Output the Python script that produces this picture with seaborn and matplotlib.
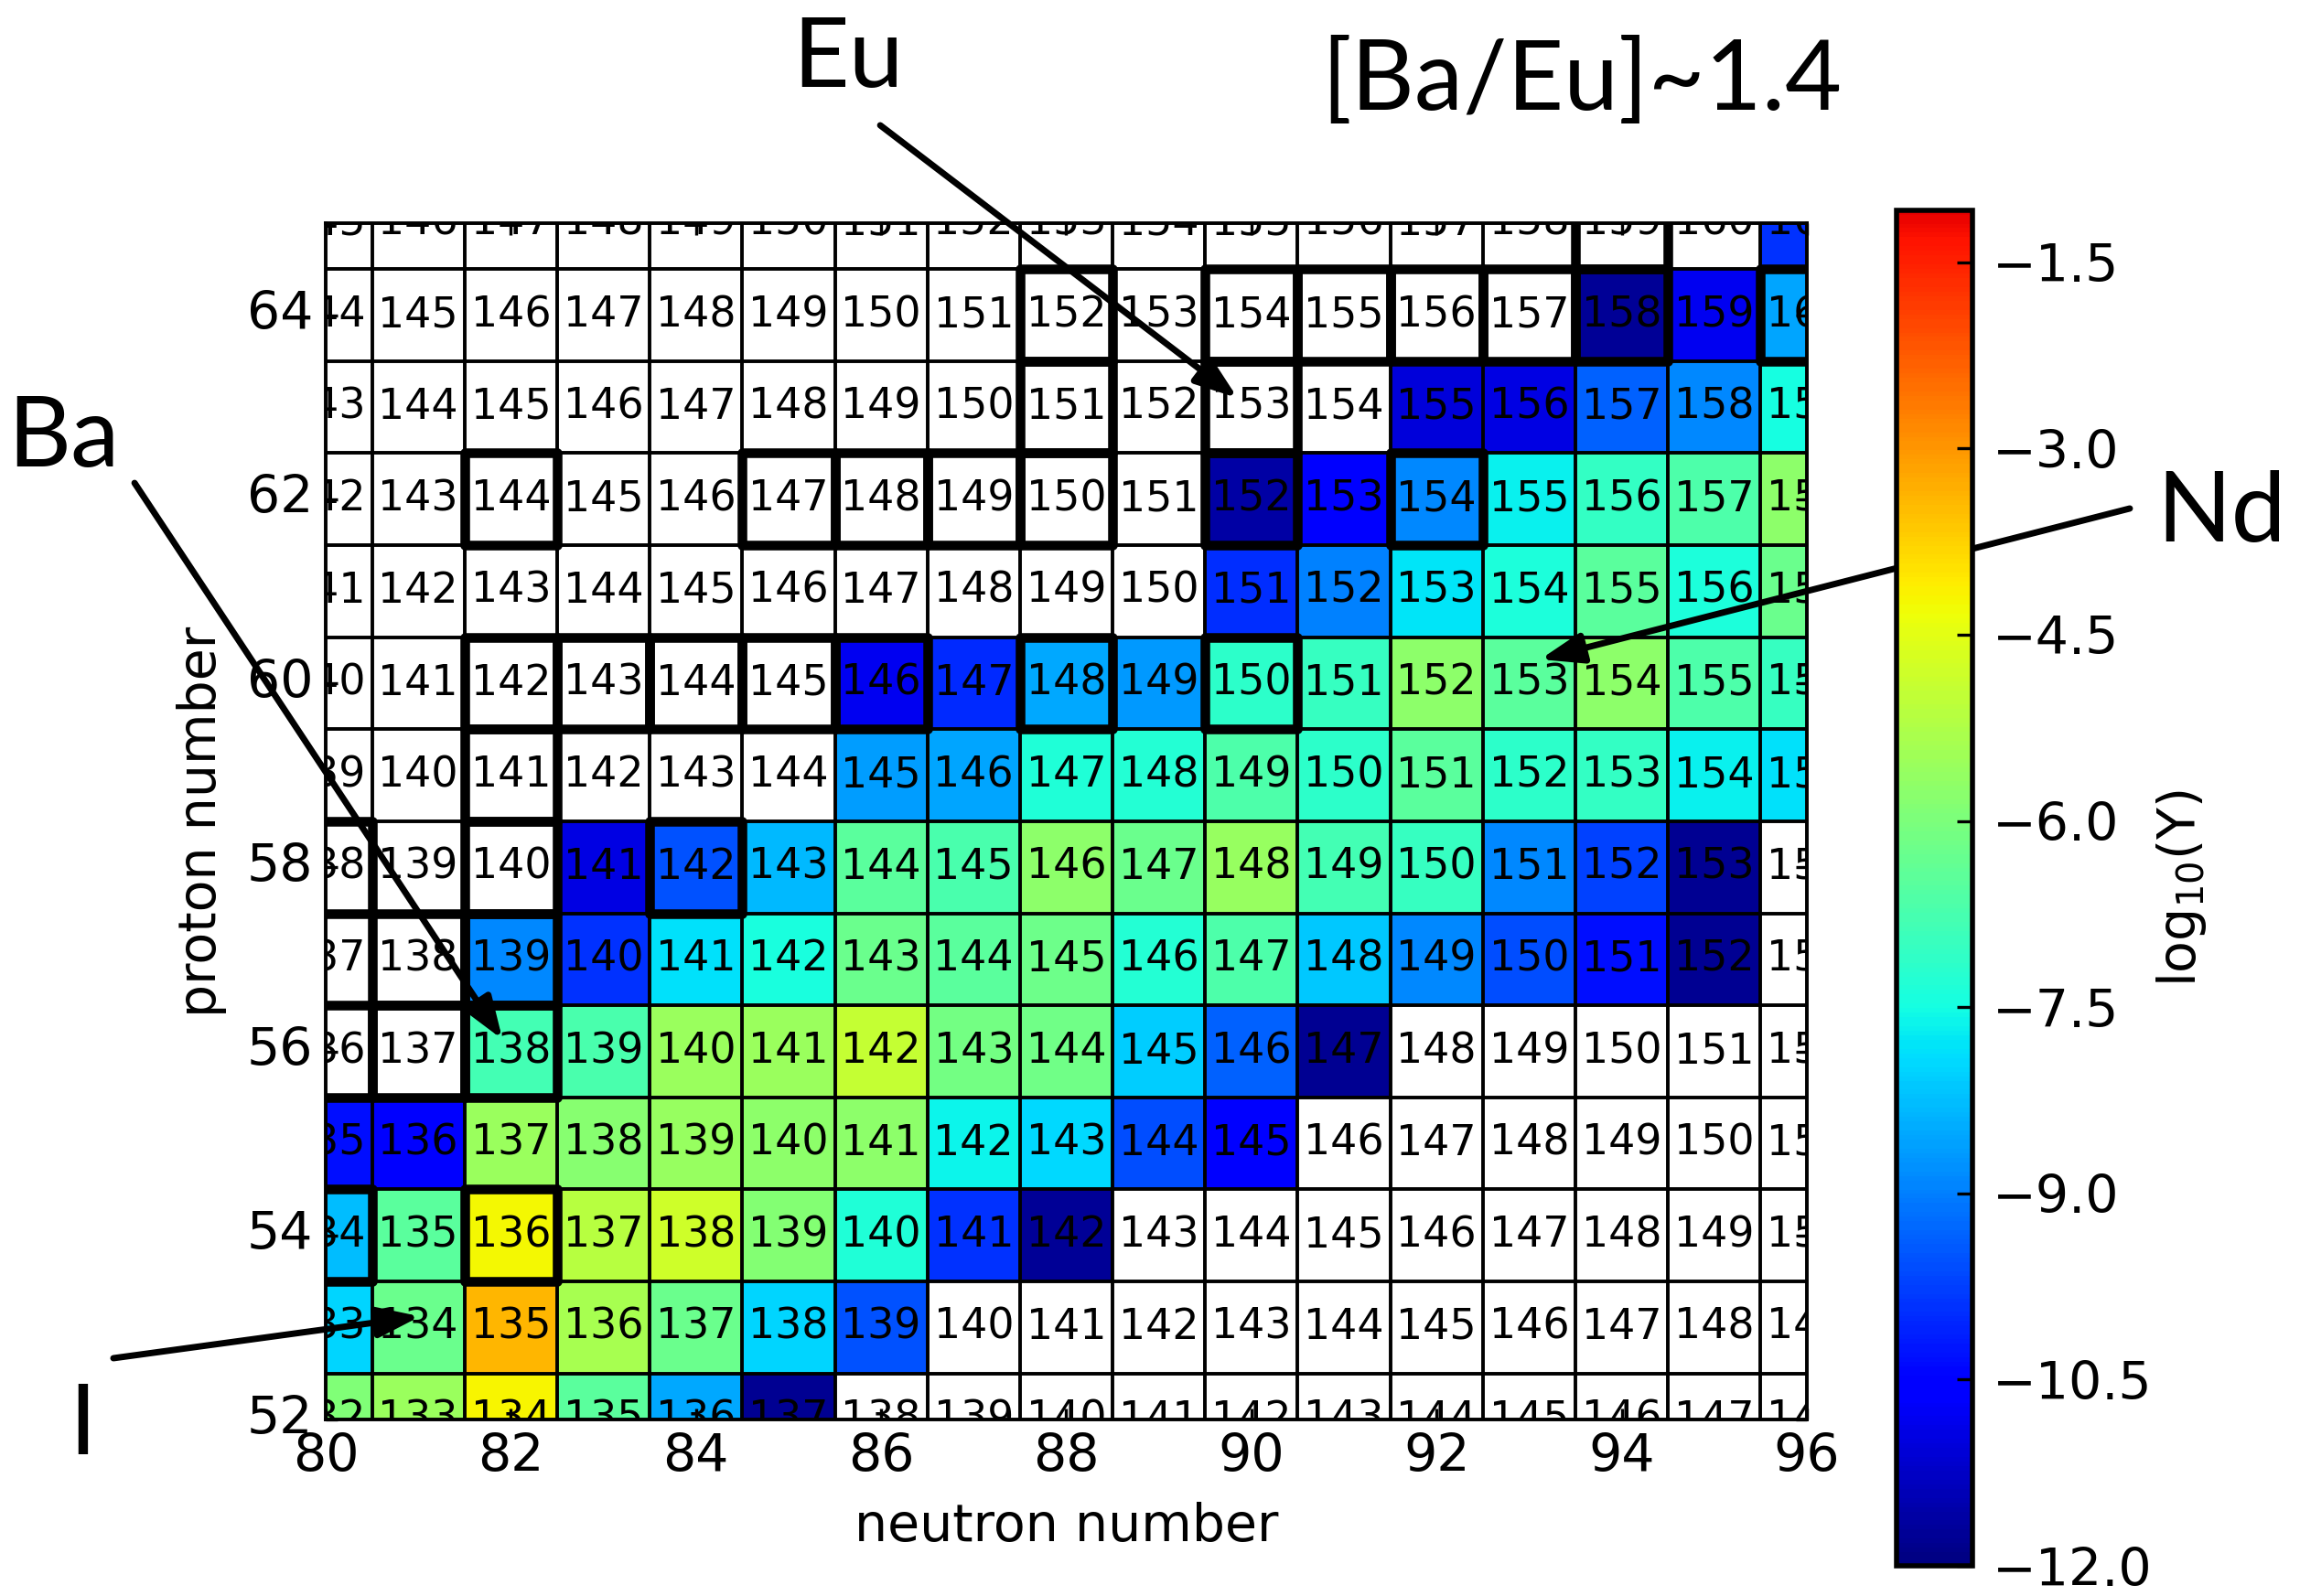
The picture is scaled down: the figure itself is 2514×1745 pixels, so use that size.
import numpy as np
import pandas as pd
import matplotlib
matplotlib.use("Agg")
import matplotlib.pyplot as plt
from matplotlib.patches import Rectangle
import seaborn as sns

nan = np.nan

neutron_numbers = list(range(80, 97))
proton_numbers = list(range(52, 66))

# log10 abundance along each isotopic chain, N = 80 ... 96 (nan = not populated)
logY_Te = [-5.95, -5.56, -4.18, -6.50, -8.53, -11.78, nan, nan, nan, nan, nan, nan, nan, nan, nan, nan, nan]
logY_I = [-7.98, -6.28, -3.41, -5.39, -6.28, -7.98, -9.52, nan, nan, nan, nan, nan, nan, nan, nan, nan, nan]
logY_Xe = [-8.26, -6.50, -4.26, -5.12, -4.82, -5.89, -7.32, -9.91, -11.72, nan, nan, nan, nan, nan, nan, nan, nan]
logY_Cs = [-10.35, -10.68, -5.56, -5.83, -5.61, -5.72, -5.72, -7.60, -7.93, -9.58, -10.57, nan, nan, nan, nan, nan, nan]
logY_Ba = [nan, nan, -6.83, -6.72, -5.56, -5.56, -4.95, -6.11, -6.17, -8.10, -9.36, -11.78, nan, nan, nan, nan, nan]
logY_La = [nan, nan, -8.86, -9.91, -7.87, -7.43, -6.28, -6.50, -6.22, -7.27, -6.66, -8.15, -8.86, -9.58, -10.35, -11.78, nan]
logY_Ce = [nan, nan, nan, -10.95, -9.52, -8.31, -6.50, -6.72, -5.72, -6.28, -5.61, -6.83, -6.99, -8.86, -9.74, -11.78, nan]
logY_Pr = [nan, nan, nan, nan, nan, nan, -8.64, -8.55, -7.32, -7.27, -6.66, -7.16, -6.50, -7.16, -7.05, -7.65, -7.87]
logY_Nd = [nan, nan, nan, nan, nan, nan, -10.79, -10.02, -8.53, -8.70, -7.16, -6.99, -5.72, -6.50, -5.72, -6.66, -6.99]
logY_Pm = [nan, nan, nan, nan, nan, nan, nan, nan, nan, nan, -9.96, -8.99, -7.82, -7.38, -6.50, -7.38, -6.28]
logY_Sm = [nan, nan, nan, nan, nan, nan, nan, nan, nan, nan, -11.61, -10.62, -8.86, -7.65, -7.05, -6.66, -5.72]
logY_Eu = [nan, nan, nan, nan, nan, nan, nan, nan, nan, nan, nan, nan, -11.06, -10.95, -9.36, -8.86, -7.49]
logY_Gd = [nan, nan, nan, nan, nan, nan, nan, nan, nan, nan, nan, nan, nan, nan, -11.72, -10.79, -8.55]
logY_Tb = [nan, nan, nan, nan, nan, nan, nan, nan, nan, nan, nan, nan, nan, nan, nan, nan, -9.91]

chains = {52: logY_Te, 53: logY_I, 54: logY_Xe, 55: logY_Cs, 56: logY_Ba,
          57: logY_La, 58: logY_Ce, 59: logY_Pr, 60: logY_Nd, 61: logY_Pm,
          62: logY_Sm, 63: logY_Eu, 64: logY_Gd, 65: logY_Tb}

# stable isotopes (mass numbers) per proton number
stable_isotopes = {
    54: [134, 136],
    56: [136, 137, 138],
    57: [138, 139],
    58: [138, 140, 142],
    59: [141],
    60: [142, 143, 144, 145, 146, 148, 150],
    62: [144, 147, 148, 149, 150, 152, 154],
    63: [151, 153],
    64: [152, 154, 155, 156, 157, 158, 160],
    65: [159],
}

x_ticks = [80, 82, 84, 86, 88, 90, 92, 94, 96]
y_ticks = [52, 54, 56, 58, 60, 62, 64]
cbar_ticks = [-12.0, -10.5, -9.0, -7.5, -6.0, -4.5, -3.0, -1.5]
color_min, color_max = -12.0, 0.0
cbar_top = -1.08

z_top = proton_numbers[-1]
n_first = neutron_numbers[0]


def px(n):
    return n - n_first + 0.5


def py(z):
    return z_top - z + 0.5


grid = pd.DataFrame([chains[z] for z in proton_numbers[::-1]],
                    index=proton_numbers[::-1], columns=neutron_numbers)

fig = plt.figure(figsize=(12.57, 8.725), dpi=200)
ax = fig.add_axes([0.1416, 0.1106, 0.6440, 0.7496])
cax = fig.add_axes([0.8246, 0.0189, 0.0330, 0.8495])

sns.heatmap(grid, ax=ax, cbar_ax=cax, cmap="jet", vmin=color_min, vmax=color_max,
            cbar_kws={"ticks": cbar_ticks,
                      "boundaries": np.linspace(color_min, cbar_top, 300)})
ax.set_facecolor("white")

# cell borders
ncol, nrow = len(neutron_numbers), len(proton_numbers)
ax.vlines(np.arange(0, ncol + 1), 0, nrow, colors="black", lw=1.4, zorder=2.5)
ax.hlines(np.arange(0, nrow + 1), 0, ncol, colors="black", lw=1.4, zorder=2.5)

# mass number in every cell
for z in proton_numbers:
    for n in neutron_numbers:
        ax.text(px(n), py(z), str(n + z), ha="center", va="center",
                fontsize=16.5, color="black", clip_on=True, zorder=4,
                family="DejaVu Sans")

# stable isotopes outlined
for z, masses in stable_isotopes.items():
    for a in masses:
        n = a - z
        ax.add_patch(Rectangle((px(n) - 0.5, py(z) - 0.5), 1, 1, fill=False,
                               ec="black", lw=3.8, zorder=3, joinstyle="round"))

ax.set_xlim(px(80), px(96))
ax.set_ylim(py(52), py(65))

ax.set_xticks([px(n) for n in x_ticks])
ax.set_xticklabels([str(n) for n in x_ticks], rotation=0)
ax.set_yticks([py(z) for z in y_ticks])
ax.set_yticklabels([str(z) for z in y_ticks], rotation=0)
ax.tick_params(which="both", direction="in", top=True, right=True,
               length=4.5, width=1.2, labelsize=20.5, pad=5, color="black")
for s in ax.spines.values():
    s.set_visible(True)
    s.set_linewidth(1.4)
    s.set_color("black")

ax.set_xlabel("neutron number", fontsize=20.5)
ax.set_ylabel("proton number", fontsize=20.5)
ax.xaxis.set_label_coords(0.5, -0.0688)
ax.yaxis.set_label_coords(-0.0667, 0.5)

cb = ax.collections[0].colorbar
cb.outline.set_linewidth(2.0)
cb.outline.set_edgecolor("black")
cax.tick_params(direction="in", length=6, width=1.2, labelsize=20.5, pad=8)
cb.set_label("log$_{10}$(Y)", fontsize=20.5)
cax.yaxis.set_label_coords(3.40, 0.5)

# element call-outs
big = dict(fontsize=38.5, family=["Lato", "DejaVu Sans"], color="black")
fig.text(0.3687, 0.9456, "Eu", ha="center", va="baseline", **big)
fig.text(0.6878, 0.9312, "[Ba/Eu]~1.4", ha="center", va="baseline", **big)
fig.text(0.0275, 0.7077, "Ba", ha="center", va="baseline", **big)
fig.text(0.9658, 0.6607, "Nd", ha="center", va="baseline", **big)
fig.text(0.0358, 0.0888, "I", ha="center", va="baseline", **big)

arrow = dict(arrowstyle="-|>,head_length=0.7,head_width=0.25", lw=2.5,
             color="black", shrinkA=0, shrinkB=0, mutation_scale=20)
callouts = [
    ((89.85, 63.10), (0.3827, 0.9215)),
    ((81.91, 56.13), (0.0585, 0.6974)),
    ((93.12, 60.26), (0.9260, 0.6814)),
    ((81.02, 53.12), (0.0493, 0.1490)),
]
for (n, z), tail in callouts:
    ax.annotate("", xy=(px(n), py(z)), xycoords="data", xytext=tail,
                textcoords="figure fraction", arrowprops=arrow,
                annotation_clip=False, zorder=6)

fig.savefig("out.png", dpi=200)
